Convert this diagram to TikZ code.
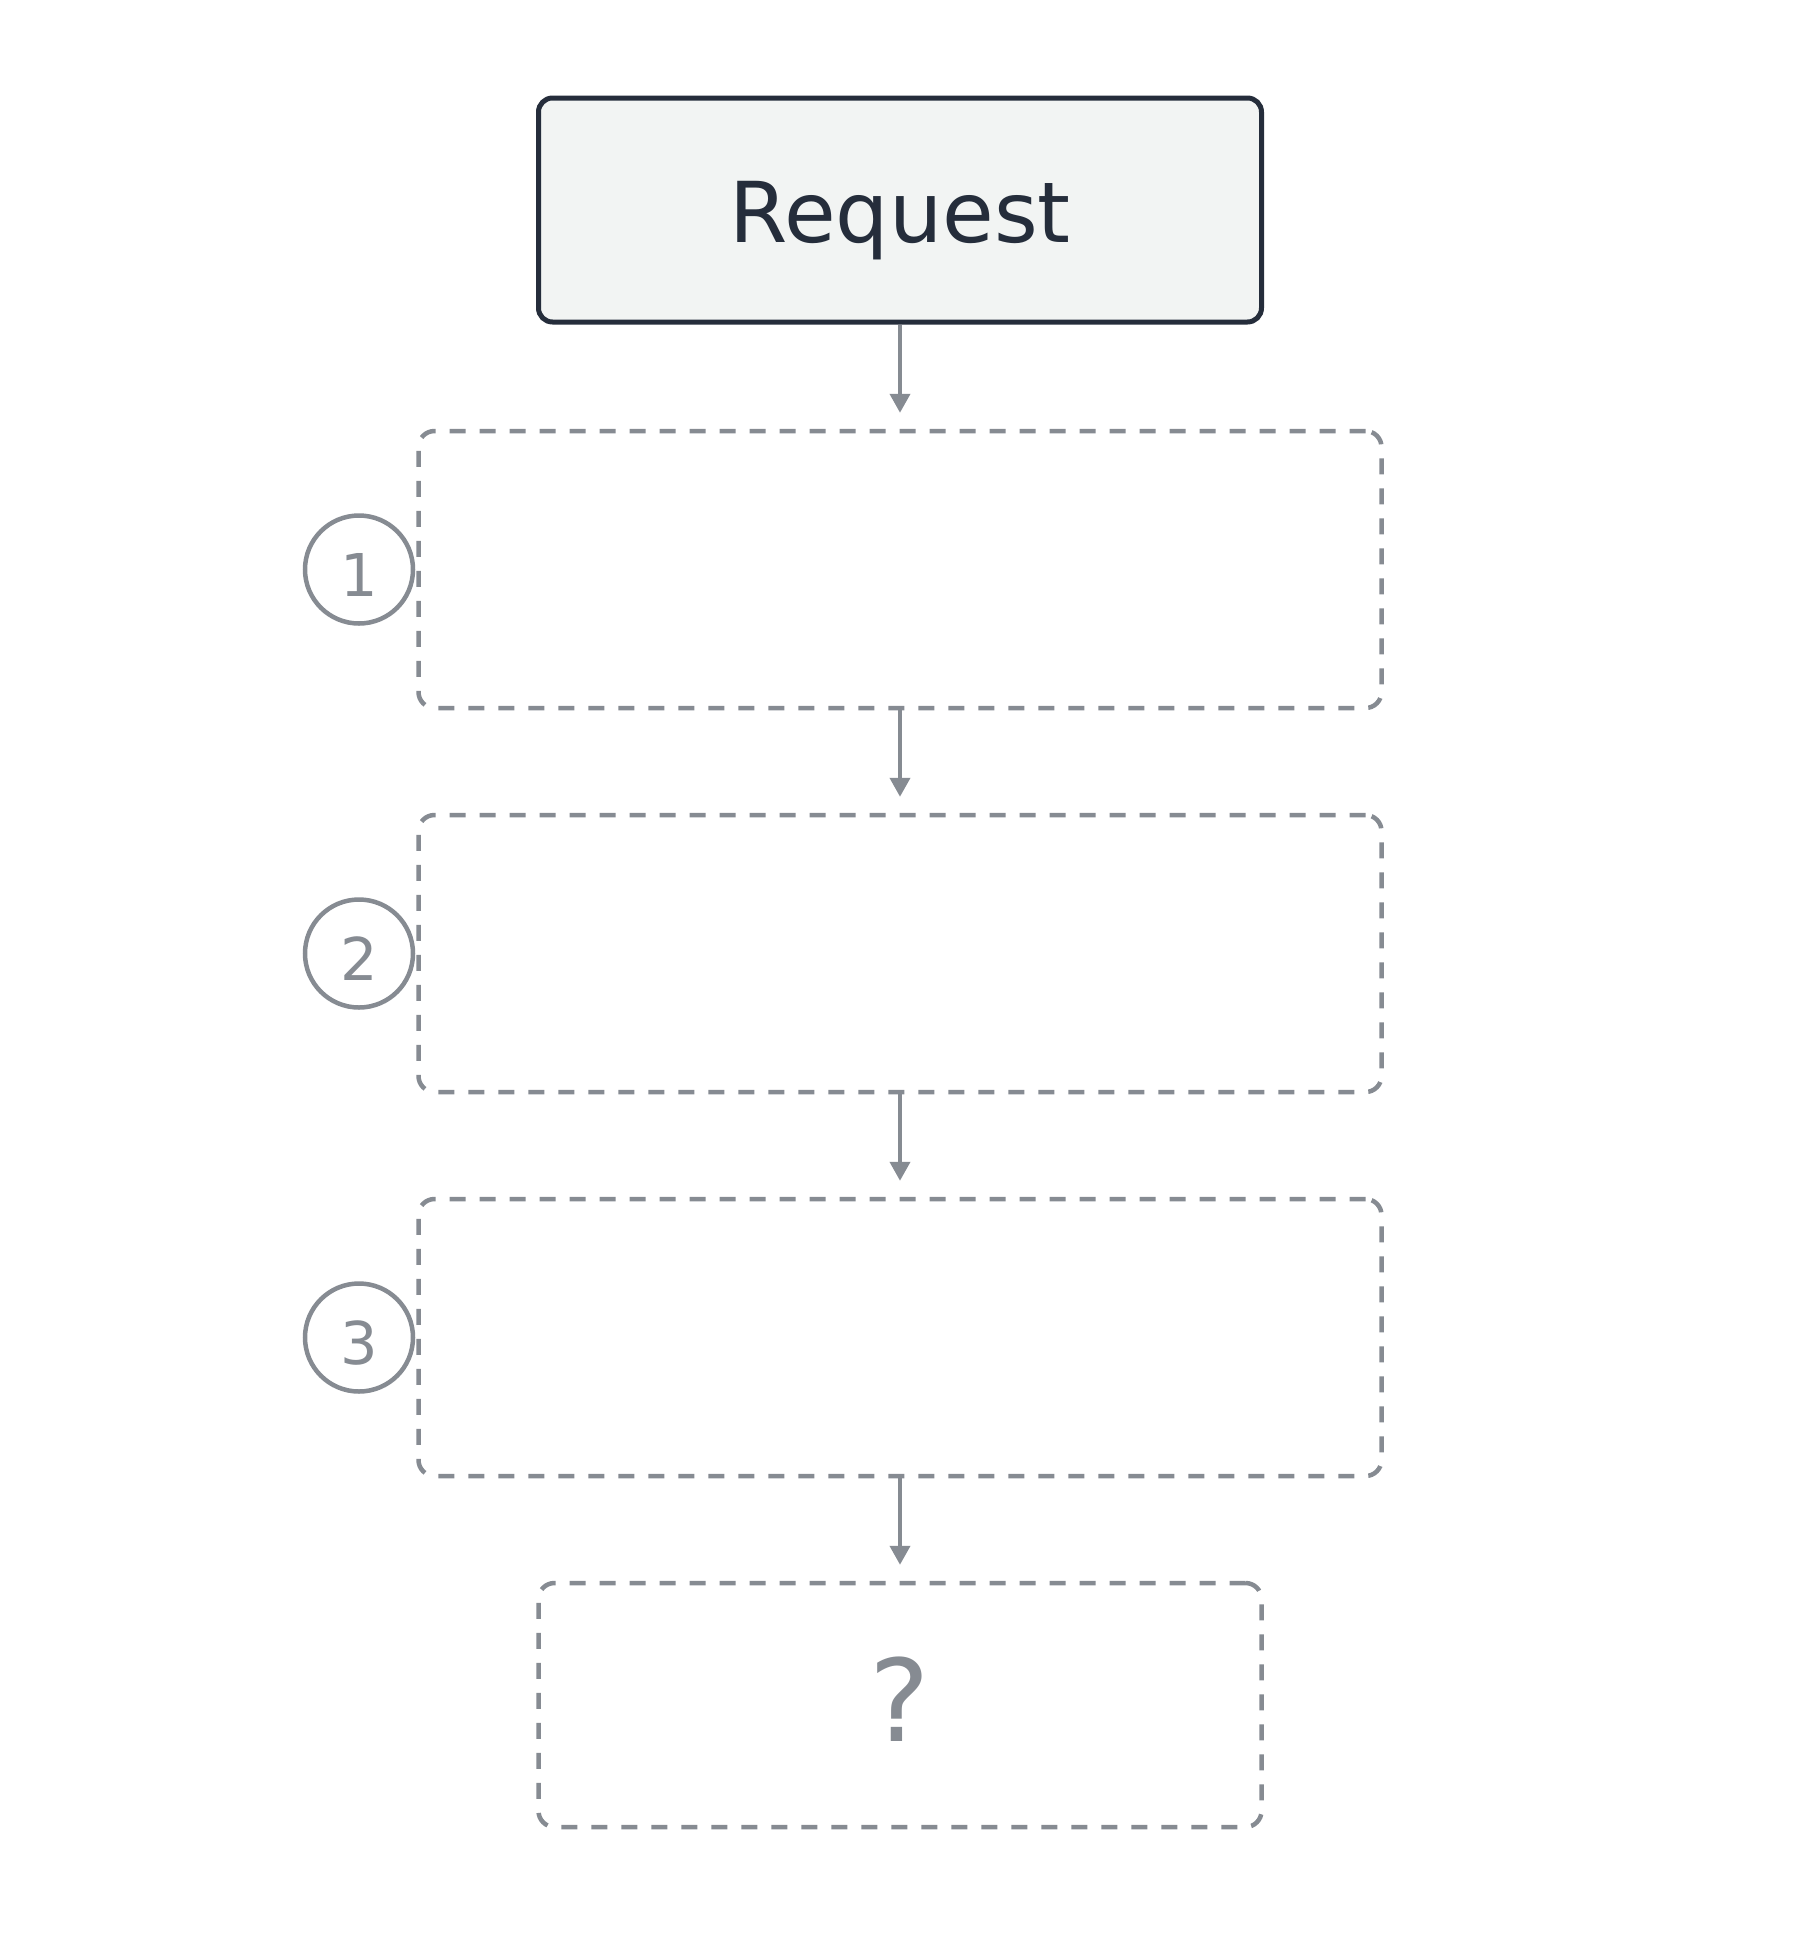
\documentclass[tikz,border=0pt]{standalone}
\usepackage{fontspec}
\setmainfont{DejaVu Sans}
\usetikzlibrary{arrows.meta}
\definecolor{reqfill}{HTML}{F2F4F3}
\definecolor{reqline}{HTML}{252D3B}
\definecolor{stagegray}{HTML}{868B92}
\begin{document}
\begin{tikzpicture}[x=0.5pt,y=-0.5pt,
    reqbox/.style={draw=reqline,fill=reqfill,line width=2.5pt,rounded corners=7pt,
      minimum width=361.5pt,minimum height=112pt,inner sep=0pt,text=reqline,
      font=\fontsize{42}{50}\selectfont,text height=32.8pt,text depth=0pt},
    stagebox/.style={draw=stagegray,line width=2.25pt,dash pattern=on 8pt off 7pt,
      rounded corners=8pt,minimum width=481.5pt,minimum height=138.5pt,inner sep=0pt},
    endbox/.style={stagebox,minimum width=361.5pt,minimum height=122pt,text=stagegray,
      font=\fontsize{57}{64}\selectfont,text height=41.6pt,text depth=5pt},
    numcirc/.style={circle,draw=stagegray,line width=2.25pt,minimum size=54pt,inner sep=0pt,
      text=stagegray,font=\fontsize{29.5}{34}\selectfont,text height=26.5pt,text depth=0pt},
    flow/.style={-{Triangle[length=9.5pt,width=10pt]},draw=stagegray,line width=2pt,
      shorten >=8pt}]
    \def\x{900}
    \def\y{384}
    \useasboundingbox (0,0) rectangle (1800,1940);
    \node[reqbox] (A0_0) at (\x, 210) {Request};
    \node[stagebox] (A1_0) at (\x, 569.5) {};
    \node[stagebox] (A2_0) at (\x, 569.5+\y) {};
    \node[stagebox] (A3_0) at (\x, 569.5+2*\y) {};
    \node[endbox] (A4_0) at (\x, 1705) {?};
    \node[numcirc] (N1) at (359, 569.5) {1};
    \node[numcirc] (N2) at (359, 569.5+\y) {2};
    \node[numcirc] (N3) at (359, 569.5+2*\y) {3};
    \path (A0_0) edge [flow] (A1_0);
    \path (A1_0) edge [flow] (A2_0);
    \path (A2_0) edge [flow] (A3_0);
    \path (A3_0) edge [flow] (A4_0);
  \end{tikzpicture}
\end{document}
